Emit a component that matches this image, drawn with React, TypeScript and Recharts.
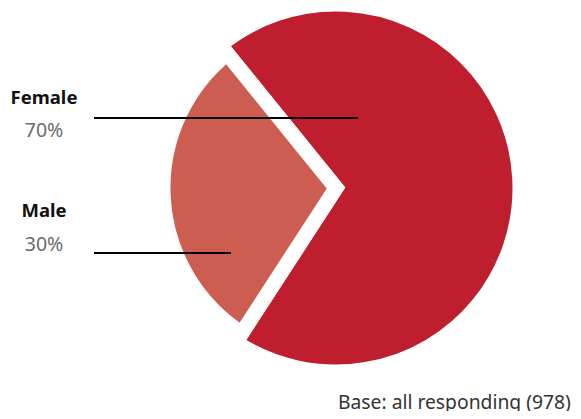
import React from 'react';
import { PieChart, Pie, Cell } from 'recharts';

const categories = ['Female', 'Male'];
const shares = [70, 30];
const baseNote = 'Base: all responding (978)';

const COLORS = ['#be1e2d', '#cd5d50'];
const FONT = '"Noto Sans", "Open Sans", sans-serif';

const data = categories.map((name, i) => ({ name, value: shares[i] }));

// slice radii: female is drawn larger than male
const RADII = [184, 173];

// where each label sits, relative to the pie's centre
const LABEL_POS = [
  { textX: -292, nameY: -84, pctY: -51, lineY: -70, lineFrom: -242, lineTo: 22 },
  { textX: -292, nameY: 29, pctY: 63, lineY: 65, lineFrom: -242, lineTo: -105 },
];

const renderLabel = (only: number) => (props: any) => {
  const { cx, cy, index } = props;
  if (index !== only) return null;
  const p = LABEL_POS[index];
  const d = data[index];
  return (
    <g key={`lbl-${index}`}>
      <text x={cx + p.textX} y={cy + p.nameY} textAnchor="middle" fontFamily={FONT} fontWeight={700} fontSize={18.5} fill="#111">
        {d.name}
      </text>
      <text x={cx + p.textX} y={cy + p.pctY} textAnchor="middle" fontFamily={FONT} fontSize={19.5} fill="#6b6b6b">
        {`${d.value}%`}
      </text>
      <line x1={cx + p.lineFrom} x2={cx + p.lineTo} y1={cy + p.lineY} y2={cy + p.lineY} stroke="#000" strokeWidth={2} />
    </g>
  );
};

export default function App() {
  return (
    <div style={{ margin: -8, width: 581, height: 419, position: 'relative', background: '#fff' }}>
      <PieChart width={581} height={419} margin={{ top: 0, right: 0, bottom: 0, left: 0 }}>
        {RADII.map((r, k) => (
          <Pie
            key={`pie-${k}`}
            data={data}
            dataKey="value"
            cx={336}
            cy={188}
            outerRadius={r}
            startAngle={-123}
            endAngle={237}
            labelLine={false}
            label={renderLabel(k)}
            isAnimationActive={false}
          >
            {data.map((entry, index) => (
              <Cell
                key={`c-${k}-${index}`}
                fill={index === k ? COLORS[k] : 'transparent'}
                stroke={index === k ? '#fff' : 'none'}
                strokeWidth={15}
              />
            ))}
          </Pie>
        ))}
      </PieChart>
      <svg width={581} height={419} style={{ position: 'absolute', left: 0, top: 0, pointerEvents: 'none' }}>
        <text x={338} y={409} fontFamily={FONT} fontSize={19.3} fill="#333">
          {baseNote}
        </text>
      </svg>
    </div>
  );
}
